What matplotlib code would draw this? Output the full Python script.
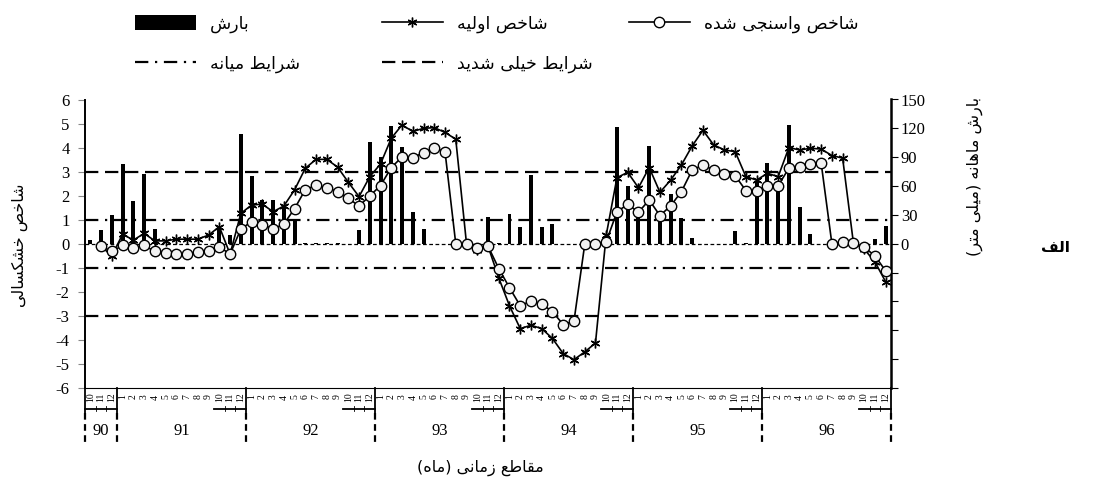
import numpy as np
import matplotlib
matplotlib.use('Agg')
import matplotlib.pyplot as plt
from matplotlib.lines import Line2D
from matplotlib.patches import Patch

plt.rcParams['font.family'] = ['Liberation Serif', 'DejaVu Sans']
plt.rcParams['axes.unicode_minus'] = False

# ---- data -------------------------------------------------------------
years = ['90', '91', '92', '93', '94', '95', '96']
months_in_year = [3, 12, 12, 12, 12, 12, 12]
first_month = 10   # year 90 starts at month 10

# monthly precipitation (mm)
precip = [4, 14, 30,
          83, 44, 73, 15, 0, 0, 0, 0, 0, 18, 9, 114,
          70, 46, 46, 37, 26, 1, 1, 1, 1, 0, 14, 106,
          90, 122, 101, 33, 15, 0, 0, 0, 0, 0, 28, 1,
          31, 17, 72, 17, 21, 0, 0, 0, 0, 0, 121, 60,
          37, 102, 33, 52, 27, 6, 0, 0, 0, 13, 1, 65,
          84, 65, 123, 38, 10, 0, 0, 0, 0, 1, 5, 18]

# original index
spi_raw = [np.nan, -0.1, -0.51,
           0.4, 0.15, 0.43, 0.12, 0.12, 0.19, 0.19, 0.19, 0.36, 0.71, -0.43, 1.26,
           1.61, 1.65, 1.33, 1.57, 2.24, 3.14, 3.51, 3.51, 3.19, 2.56, 1.96, 2.79,
           3.32, 4.39, 4.94, 4.67, 4.8, 4.83, 4.63, 4.35, 0.0, -0.26, -0.1, -1.42,
           -2.58, -3.53, -3.39, -3.53, -3.94, -4.57, -4.82, -4.5, -4.13, 0.36, 2.75, 2.97,
           2.33, 3.17, 2.14, 2.65, 3.28, 4.07, 4.72, 4.11, 3.9, 3.83, 2.79, 2.65,
           2.93, 2.79, 4.0, 3.9, 3.97, 3.94, 3.67, 3.56, 0.04, -0.22, -0.75, -1.58]

# calibrated index
spi_cal = [np.nan, -0.1, -0.32,
           -0.07, -0.19, -0.07, -0.32, -0.37, -0.43, -0.43, -0.33, -0.29, -0.13, -0.43, 0.61,
           0.92, 0.8, 0.61, 0.82, 1.46, 2.25, 2.43, 2.32, 2.17, 1.89, 1.57, 1.99,
           2.42, 3.17, 3.61, 3.58, 3.79, 3.97, 3.83, 0.0, 0.0, -0.17, -0.1, -1.03,
           -1.83, -2.58, -2.38, -2.5, -2.83, -3.36, -3.22, -0.03, 0.0, 0.08, 1.33, 1.64,
           1.31, 1.82, 1.17, 1.58, 2.17, 3.07, 3.27, 3.07, 2.9, 2.83, 2.21, 2.21,
           2.42, 2.42, 3.14, 3.19, 3.32, 3.36, 0.0, 0.06, 0.04, -0.14, -0.5, -1.13]

severe_level = 3
moderate_level = 1

lbl_precip = 'بارش'
lbl_raw = 'شاخص اولیه'
lbl_cal = 'شاخص واسنجی شده'
lbl_severe = 'شرایط خیلی شدید'
lbl_moderate = 'شرایط میانه'
lbl_left = 'شاخص خشکسالی'
lbl_right = 'بارش ماهانه (میلی متر)'
lbl_x = 'مقاطع زمانی (ماه)'
lbl_panel = 'الف'


# ---- persian shaping (matplotlib has no bidi / joining) ---------------
FORMS = {
    '\u0627': ('\uFE8D', '\uFE8E', None, None),
    '\u0628': ('\uFE8F', '\uFE90', '\uFE91', '\uFE92'),
    '\u062A': ('\uFE95', '\uFE96', '\uFE97', '\uFE98'),
    '\u062C': ('\uFE9D', '\uFE9E', '\uFE9F', '\uFEA0'),
    '\u062E': ('\uFEA5', '\uFEA6', '\uFEA7', '\uFEA8'),
    '\u062F': ('\uFEA9', '\uFEAA', None, None),
    '\u0631': ('\uFEAD', '\uFEAE', None, None),
    '\u0632': ('\uFEAF', '\uFEB0', None, None),
    '\u0633': ('\uFEB1', '\uFEB2', '\uFEB3', '\uFEB4'),
    '\u0634': ('\uFEB5', '\uFEB6', '\uFEB7', '\uFEB8'),
    '\u0635': ('\uFEB9', '\uFEBA', '\uFEBB', '\uFEBC'),
    '\u0637': ('\uFEC1', '\uFEC2', '\uFEC3', '\uFEC4'),
    '\u0639': ('\uFEC9', '\uFECA', '\uFECB', '\uFECC'),
    '\u0641': ('\uFED1', '\uFED2', '\uFED3', '\uFED4'),
    '\u0642': ('\uFED5', '\uFED6', '\uFED7', '\uFED8'),
    '\u0644': ('\uFEDD', '\uFEDE', '\uFEDF', '\uFEE0'),
    '\u0645': ('\uFEE1', '\uFEE2', '\uFEE3', '\uFEE4'),
    '\u0646': ('\uFEE5', '\uFEE6', '\uFEE7', '\uFEE8'),
    '\u0647': ('\uFEE9', '\uFEEA', '\uFEEB', '\uFEEC'),
    '\u0648': ('\uFEED', '\uFEEE', None, None),
    '\u06CC': ('\uFBFC', '\uFBFD', '\uFBFE', '\uFBFF'),
    '\u06A9': ('\uFB8E', '\uFB8F', '\uFB90', '\uFB91'),
}
MIRROR = {'(': ')', ')': '('}


def fa(text):
    text = text.replace('\u064A', '\u06CC').replace('\u0643', '\u06A9')
    out = []
    for k, ch in enumerate(text):
        if ch not in FORMS:
            out.append(MIRROR.get(ch, ch))
            continue
        prev = text[k - 1] if k > 0 else ''
        nxt = text[k + 1] if k + 1 < len(text) else ''
        iso, fin, ini, med = FORMS[ch]
        join_prev = prev in FORMS and FORMS[prev][2] is not None
        join_next = ini is not None and nxt in FORMS
        if join_prev and join_next:
            out.append(med)
        elif join_prev:
            out.append(fin)
        elif join_next:
            out.append(ini)
        else:
            out.append(iso)
    return ''.join(reversed(out))


FA = {'family': 'DejaVu Sans', 'size': 11.5}
FA_LEG = {'family': 'DejaVu Sans', 'size': 12.5}

# ---- figure -----------------------------------------------------------
W, H = 1099, 488
fig = plt.figure(figsize=(W / 100, H / 100), dpi=100)
ax = fig.add_axes([85 / W, 1 - 388 / H, 806 / W, 288.5 / H])
ax2 = ax.twinx()
ax.set_zorder(2)
ax2.set_zorder(1)
ax.patch.set_visible(False)

x = np.arange(len(precip))

ax2.bar(x, precip, width=0.37, color='black', zorder=2)
ax2.set_ylim(-150, 150)
ax2.set_yticks(np.arange(-150, 151, 30))
ax2.set_yticklabels(['' if v < 0 else str(v) for v in range(-150, 151, 30)])

ax.axhline(0, color='black', lw=0.9, ls=(0, (3, 2)), zorder=1)
for lev in (severe_level, -severe_level):
    ax.axhline(lev, color='black', lw=1.6, ls=(0, (6, 3)), zorder=1)
for lev in (moderate_level, -moderate_level):
    ax.axhline(lev, color='black', lw=1.6, ls=(0, (6, 3, 1, 3)), zorder=1)

star = (6, 2, 0)
ax.plot(x, spi_raw, color='black', lw=1.2, marker=star, ms=7, mew=1.0, zorder=3)
ax.plot(x, spi_cal, color='black', lw=1.2, marker='o', ms=7.5, mew=1.0,
        mfc='#f2f2f2', mec='black', zorder=4)

ax.set_xlim(-0.5, len(precip) - 0.5)
ax.set_ylim(-6, 6)
ax.set_yticks(range(-6, 7))
ax.set_xticks([])
ax.tick_params(axis='y', direction='out', length=5, color='#888888', pad=6, labelsize=12)
ax2.tick_params(axis='y', direction='out', length=5, color='black', pad=2, labelsize=12)
for a in (ax, ax2):
    a.spines['top'].set_visible(False)
ax.spines['left'].set_linewidth(1.4)
ax.spines['right'].set_visible(False)
ax.spines['bottom'].set_linewidth(0.8)
ax2.spines['right'].set_linewidth(1.8)
ax2.spines['left'].set_visible(False)
ax2.spines['bottom'].set_visible(False)

# ---- category axis (months / years) -----------------------------------
ax_h_px = fig.get_figheight() * fig.dpi * ax.get_position().height
trans = ax.get_xaxis_transform()


def below(px):
    return -px / ax_h_px


month_labels = []
for n in months_in_year:
    start = first_month if n < 12 else 1
    month_labels += [str(m) for m in range(start, start + n)]
for i, m in enumerate(month_labels):
    ax.text(i, below(9), m, transform=trans, rotation=90, fontsize=7,
            ha='center', va='center', clip_on=False)

start = -0.5
bounds = [start]
for yr, n in zip(years, months_in_year):
    end = start + n
    ax.text((start + end) / 2, below(43), yr, transform=trans, fontsize=12,
            ha='center', va='center')
    ax.plot([end - 3, end], [below(20.5)] * 2, transform=trans, color='black',
            lw=1.3, clip_on=False)
    for t in (end - 2, end - 1):
        ax.plot([t, t], [below(18), below(23)], transform=trans, color='black',
                lw=0.6, clip_on=False)
    bounds.append(end)
    start = end
for b in bounds:
    ax.plot([b, b], [below(0), below(25)], transform=trans, color='black',
            lw=1.3, clip_on=False)
    ax.plot([b, b], [below(25), below(54)], transform=trans, color='black',
            lw=1.6, ls=(0, (3, 2)), clip_on=False)

# ---- labels -------------------------------------------------------------
fig.text(20 / W, 1 - 245 / H, fa(lbl_left), rotation=90, ha='center', va='center',
         fontdict=FA)
fig.text(975 / W, 1 - 176 / H, fa(lbl_right), rotation=90, ha='center', va='center',
         fontdict=FA)
fig.text(480 / W, 1 - 468 / H, fa(lbl_x), ha='center', va='center', fontdict=FA)
fig.text(1055 / W, 1 - 248 / H, fa(lbl_panel), ha='center', va='center',
         family='DejaVu Sans', size=11, weight='bold')

# ---- legend -------------------------------------------------------------
entries = [
    (Patch(facecolor='black'), lbl_precip, 135, 24),
    (Line2D([], [], color='black', lw=1.6, ls=(0, (6, 3, 1, 3))), lbl_moderate, 135, 64),
    (Line2D([], [], color='black', lw=1.2, marker=star, ms=7, mew=1.0), lbl_raw, 382, 24),
    (Line2D([], [], color='black', lw=1.6, ls=(0, (6, 3))), lbl_severe, 382, 64),
    (Line2D([], [], color='black', lw=1.2, marker='o', ms=7.5, mew=1.0,
            mfc='white', mec='black'), lbl_cal, 629, 24),
]
for handle, label, px, py in entries:
    fig.legend([handle], [fa(label)], loc='center left',
               bbox_to_anchor=(px / W, 1 - py / H), frameon=False,
               prop=FA_LEG, handlelength=3.5, handleheight=0.95, handletextpad=0.8,
               borderpad=0, borderaxespad=0, numpoints=1)

fig.savefig('out.png', dpi=100)
